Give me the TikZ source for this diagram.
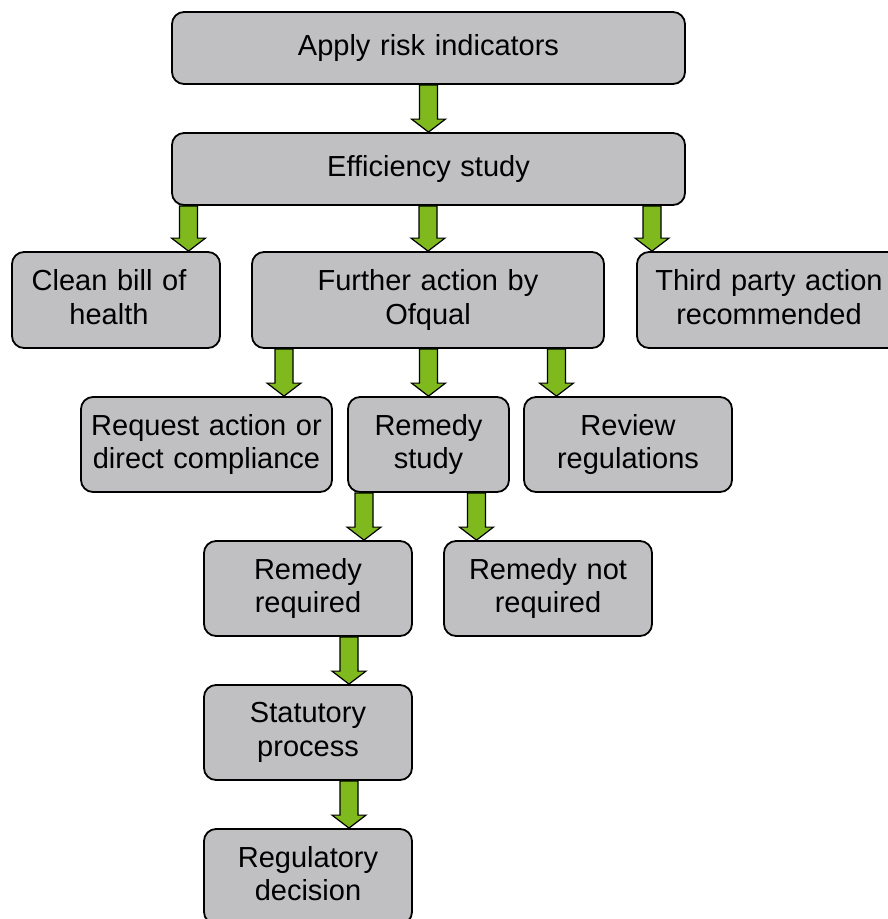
\documentclass[tikz,border=0pt]{standalone}
\usepackage{fontspec}
\setmainfont{Liberation Sans}
\usetikzlibrary{calc}
\definecolor{boxgray}{RGB}{192,192,194}
\definecolor{agreen}{RGB}{128,185,30}
\tikzset{
  box/.style={draw=black, line width=1.8pt, fill=boxgray, rounded corners=12pt,
    align=center, inner sep=0pt, text width=#1pt, minimum width=#1pt,
    font=\fontsize{29}{33.5}\selectfont, execute at end node={\vphantom{g}}},
  barrow/.style={fill=agreen, draw=black, line width=1.2pt, line join=miter},
}
% block arrow at pixel x from node #2 (south) to node #3 (north)
\newcommand{\blockarrow}[3]{%
  \path (#1,0 |- #2.south) coordinate (bs) (#1,0 |- #3.north) coordinate (be);
  \draw[barrow] ($(bs)+(-9,0)$) -- ($(be)+(-9,-13)$) -- ($(be)+(-17,-13)$) -- (be)
    -- ($(be)+(17,-13)$) -- ($(be)+(9,-13)$) -- ($(bs)+(9,0)$) -- cycle;
}
\begin{document}
\begin{tikzpicture}[x=1pt,y=-1pt]
\useasboundingbox (0,0) rectangle (888,919);
\clip (0,0) rectangle (888,919);
\node[box=513, minimum height=72pt] (apply) at (428.5,48) {Apply risk indicators};
\node[box=513, minimum height=72pt] (eff) at (428.5,169) {Efficiency study};
\node[box=208, minimum height=96pt] (clean) at (116,300) {Clean bill of\rule{14pt}{0pt}\\health\rule{14pt}{0pt}};
\node[box=352, minimum height=96pt] (further) at (428,300) {Further action by\\Ofqual};
\node[box=264, minimum height=96pt] (third) at (769,300) {Third party action\\recommended};
\node[box=251, minimum height=95pt] (request) at (206.5,444.5) {Request action or\\direct compliance};
\node[box=161, minimum height=95pt] (rstudy) at (428.5,444.5) {Remedy\\study};
\node[box=208, minimum height=95pt] (review) at (628,444.5) {Review\\regulations};
\node[box=208, minimum height=95pt] (rreq) at (308,588.5) {Remedy\\required};
\node[box=208, minimum height=95pt] (rnot) at (548,588.5) {Remedy not\\required};
\node[box=208, minimum height=95pt] (stat) at (308,732.5) {Statutory\\process};
\node[box=208, minimum height=95pt] (reg) at (308,876.5) {Regulatory\\decision};
\blockarrow{428.5}{apply}{eff}
\blockarrow{188.5}{eff}{clean}
\blockarrow{428}{eff}{further}
\blockarrow{652}{eff}{third}
\blockarrow{284}{further}{request}
\blockarrow{428.5}{further}{rstudy}
\blockarrow{556.5}{further}{review}
\blockarrow{364}{rstudy}{rreq}
\blockarrow{476.5}{rstudy}{rnot}
\blockarrow{349}{rreq}{stat}
\blockarrow{349}{stat}{reg}
\end{tikzpicture}
\end{document}
